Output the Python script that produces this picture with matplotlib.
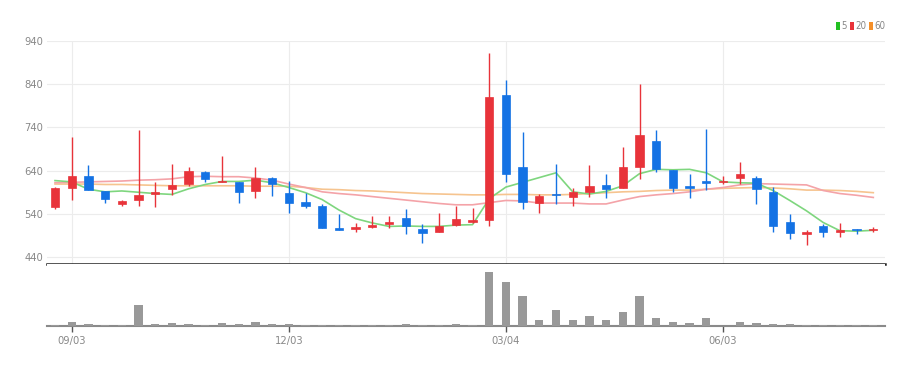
import matplotlib
matplotlib.use("Agg")
import matplotlib.pyplot as plt
from matplotlib.patches import Rectangle

# ---- data (weekly candles) ----
opens  = [557, 599, 627, 594, 563, 571, 585, 597, 610, 637, 614, 613, 593, 624, 589,
          567, 559, 507, 506, 509, 516, 530, 506, 499, 515, 522, 526, 816, 649, 565,
          587, 580, 590, 607, 601, 649, 709, 641, 605, 616, 613, 624, 622, 591, 522,
          494, 511, 499, 506, 502]
highs  = [603, 719, 652, 594, 571, 733, 614, 656, 649, 640, 674, 614, 649, 626, 617,
          589, 562, 540, 519, 536, 536, 552, 516, 541, 559, 553, 913, 850, 729, 586,
          656, 599, 653, 633, 695, 840, 733, 641, 633, 737, 627, 660, 627, 603, 540,
          503, 517, 520, 506, 510]
lows   = [551, 572, 595, 565, 558, 558, 555, 584, 604, 614, 613, 566, 576, 581, 543,
          553, 507, 502, 499, 507, 507, 494, 473, 499, 511, 520, 511, 614, 551, 543,
          562, 558, 580, 576, 599, 620, 637, 591, 576, 595, 609, 610, 563, 497, 482,
          469, 486, 486, 494, 497]
closes = [599, 627, 595, 575, 569, 584, 590, 607, 640, 620, 617, 591, 623, 609, 565,
          559, 507, 503, 509, 515, 522, 512, 496, 511, 529, 526, 811, 633, 567, 582,
          584, 590, 605, 597, 649, 722, 643, 601, 600, 611, 617, 632, 597, 512, 496,
          499, 497, 503, 503, 506]
volumes = [10, 40, 20, 10, 10, 210, 20, 30, 20, 10, 30, 20, 45, 20, 20,
           10, 10, 10, 10, 10, 10, 20, 10, 10, 20, 10, 540, 440, 300, 60,
           160, 60, 100, 60, 140, 300, 80, 40, 27, 80, 5, 45, 30, 25, 25,
           10, 10, 10, 10, 10]
ma5  = [617, 614, 597, 591, 593, 590, 587, 585, 598, 608, 615, 615, 618, 612, 601,
        589, 573, 549, 529, 519, 511, 512, 511, 511, 514, 515, 575, 602, 613, 624,
        635, 591, 586, 592, 605, 633, 643, 642, 643, 635, 614, 612, 611, 594, 571,
        547, 520, 501, 500, 502]
ma20 = [612, 613, 614, 615, 616, 618, 619, 621, 626, 627, 626, 626, 623, 618, 609,
        601, 591, 587, 584, 580, 576, 572, 568, 564, 561, 561, 566, 571, 570, 565,
        565, 565, 563, 563, 572, 580, 584, 587, 591, 597, 601, 607, 610, 609, 608,
        607, 594, 587, 583, 578]
ma60 = [609, 609, 609, 608, 608, 607, 606, 605, 605, 605, 605, 605, 604, 604, 604,
        601, 597, 596, 594, 593, 591, 589, 587, 586, 585, 584, 584, 585, 585, 584,
        584, 585, 587, 589, 591, 592, 594, 595, 595, 597, 599, 600, 601, 600, 598,
        595, 595, 594, 592, 589]
tick_idx = [1, 14, 27, 40]
tick_labels = ["09/03", "12/03", "03/04", "06/03"]
yticks = [440, 540, 640, 740, 840, 940]
legend_labels = ["5", "20", "60"]

UP = "#e8333a"
DOWN = "#1472e4"
C5, C20, C60 = "#7ed67e", "#f4a3a8", "#f6c48f"
LEG_COLORS = ["#22c022", "#e8333a", "#f5902a"]

plt.rcParams['font.family'] = ['DejaVu Sans']
plt.rcParams['font.stretch'] = 'condensed'

fig = plt.figure(figsize=(9.16, 3.67), dpi=100)
W, H = 916, 367
L, R = 47, 885
ax = fig.add_axes([L / W, (H - 264) / H, (R - L) / W, (264 - 41) / H])
axv = fig.add_axes([L / W, (H - 326) / H, (R - L) / W, (326 - 264) / H])

n = len(closes)
bw = 0.5
for i in range(n):
    o, h, l, c = opens[i], highs[i], lows[i], closes[i]
    col = UP if c >= o else DOWN
    ax.vlines(i, l, h, color=col, lw=1.0, zorder=3)
    bot = min(o, c)
    hgt = max(abs(c - o), 2.5)
    ax.add_patch(Rectangle((i - bw / 2, bot), bw, hgt, facecolor=col,
                           edgecolor=col, lw=0.5, zorder=4))

x = list(range(n))
ax.plot(x, ma60, color=C60, lw=1.2, zorder=2)
ax.plot(x, ma20, color=C20, lw=1.2, zorder=2)
ax.plot(x, ma5, color=C5, lw=1.2, zorder=2)

ax.set_xlim(-0.48, 49.7)
ax.set_ylim(424, 940)
ax.set_yticks(yticks)
ax.set_yticklabels([str(v) for v in yticks])
ax.set_xticks(tick_idx)
ax.tick_params(axis='x', length=0, labelbottom=False)
ax.tick_params(axis='y', length=0, labelsize=8, colors="#888888", pad=3)
ax.grid(True, color="#ececec", lw=0.8)
ax.set_axisbelow(True)
for s in ["top", "right", "left"]:
    ax.spines[s].set_visible(False)
ax.spines["bottom"].set_color("#222222")
ax.spines["bottom"].set_linewidth(1.8)

axv.bar(x, volumes, width=bw, color="#999999", zorder=3)
axv.set_xlim(-0.48, 49.7)
axv.set_ylim(0, 540 * 62 / 54)
axv.set_yticks([])
axv.set_xticks(tick_idx)
axv.set_xticklabels(tick_labels)
axv.tick_params(axis='x', length=4, width=1, color="#555555", labelsize=8,
                labelcolor="#888888", pad=3)
for s in ["top", "right", "left"]:
    axv.spines[s].set_visible(False)
axv.spines["bottom"].set_color("#8a8a8a")
axv.spines["bottom"].set_linewidth(1.5)

# legend
for lab, col, sx in zip(legend_labels, LEG_COLORS, [836, 850, 869]):
    fig.patches.append(Rectangle((sx / W, (H - 30) / H), 4 / W, 8 / H,
                                 transform=fig.transFigure, facecolor=col, edgecolor="none"))
    fig.text((sx + 5.5) / W, (H - 26) / H, lab, fontsize=7, color="#888888",
             va="center", ha="left")

fig.savefig("out.png", dpi=100)
